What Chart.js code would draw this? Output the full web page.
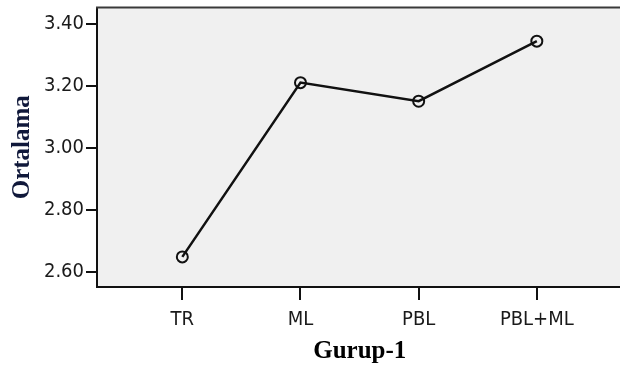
<!DOCTYPE html>
<html>
<head>
<meta charset="utf-8">
<script src="https://cdn.jsdelivr.net/npm/chart.js@4.4.1/dist/chart.umd.min.js"></script>
<style>
  html, body { margin: 0; padding: 0; background: #ffffff; overflow: hidden; width: 620px; height: 367px; }
  #wrap { width: 620px; height: 367px; overflow: hidden; position: relative; }
  canvas { display: block; }
</style>
</head>
<body>
<div id="wrap"><canvas id="c" width="630" height="367"></canvas></div>
<script>
const categories = ["TR", "ML", "PBL", "PBL+ML"];
const means = [2.648, 3.211, 3.151, 3.345];
const yTicks = [2.60, 2.80, 3.00, 3.20, 3.40];
const xTitle = "Gurup-1";
const yTitle = "Ortalama";

const points = categories.map((c, i) => ({ x: i, y: means[i] }));
const tickFont = "'DejaVu Sans Condensed', 'Liberation Sans', Arial, sans-serif";

const frame = {
  id: 'frame',
  beforeDraw(chart) {
    const { ctx, chartArea: a } = chart;
    ctx.save();
    ctx.fillStyle = '#f0f0f0';
    ctx.fillRect(a.left, a.top, a.right - a.left, a.bottom - a.top);
    ctx.restore();
  },
  afterDatasetsDraw(chart) {
    const { ctx, chartArea: a } = chart;
    ctx.save();
    ctx.strokeStyle = '#3a3a3a';
    ctx.lineWidth = 2;
    ctx.beginPath();
    ctx.moveTo(a.left - 1, a.top);
    ctx.lineTo(a.right + 2, a.top);
    ctx.stroke();
    ctx.restore();
  }
};

new Chart(document.getElementById('c'), {
  type: 'line',
  data: {
    datasets: [{
      data: points,
      borderColor: '#111111',
      borderWidth: 2.5,
      pointRadius: 5.5,
      pointBorderWidth: 2,
      pointBorderColor: '#111111',
      pointBackgroundColor: 'rgba(0,0,0,0)',
      tension: 0,
      fill: false
    }]
  },
  options: {
    responsive: false,
    devicePixelRatio: 1,
    animation: false,
    layout: { padding: { top: 6, right: 2, left: 0, bottom: 0 } },
    plugins: { legend: { display: false }, tooltip: { enabled: false } },
    scales: {
      x: {
        type: 'linear',
        min: -0.722,
        max: 3.725,
        afterFit(s) { s.height = 80; s.paddingLeft = 0; s.paddingRight = 0; },
        afterBuildTicks(s) { s.ticks = categories.map((c, i) => ({ value: i })); },
        grid: { drawOnChartArea: false, drawTicks: true, tickLength: 13, color: '#111111', lineWidth: 2 },
        border: { display: true, color: '#111111', width: 2 },
        ticks: {
          autoSkip: false,
          maxRotation: 0,
          padding: 8,
          color: '#1a1a1a',
          font: { family: tickFont, size: 20 },
          callback: (v) => categories[v] ?? ''
        },
        title: {
          display: true,
          text: xTitle,
          color: '#000000',
          padding: { top: 0, bottom: 0 },
          font: { family: "'Liberation Serif', 'Times New Roman', serif", size: 25, weight: 'bold' }
        }
      },
      y: {
        type: 'linear',
        min: 2.5508,
        max: 3.4537,
        afterFit(s) { s.width = 97; s.paddingTop = 0; s.paddingBottom = 0; },
        afterBuildTicks(s) { s.ticks = yTicks.map(v => ({ value: v })); },
        grid: { drawOnChartArea: false, drawTicks: true, tickLength: 11, color: '#111111', lineWidth: 2 },
        border: { display: true, color: '#111111', width: 2 },
        ticks: {
          padding: 2,
          color: '#1a1a1a',
          font: { family: tickFont, size: 20 },
          callback: (v) => Number(v).toFixed(2)
        },
        title: {
          display: true,
          text: yTitle,
          color: '#10183a',
          padding: { top: 8, bottom: 0 },
          font: { family: "'Liberation Serif', 'Times New Roman', serif", size: 25, weight: 'bold' }
        }
      }
    }
  },
  plugins: [frame]
});
</script>
</body>
</html>
